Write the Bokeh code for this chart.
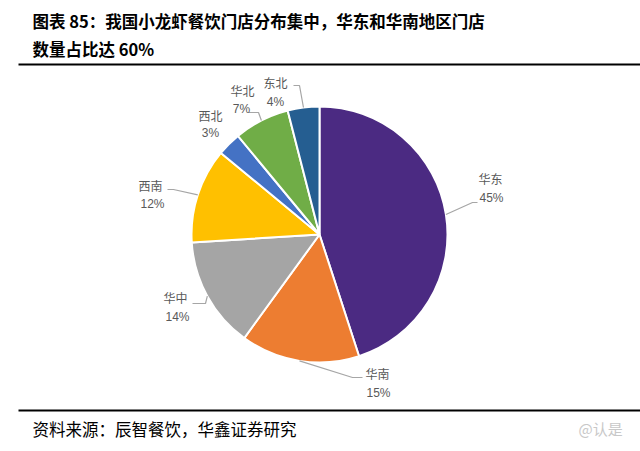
import math
from bokeh.plotting import figure
from bokeh.models import Range1d, ColumnDataSource, Label
from bokeh.core.properties import value
from bokeh.embed import file_html
from bokeh.resources import INLINE

# ---- data ----
regions = ["华东", "华南", "华中", "西南", "西北", "华北", "东北"]
shares = [45, 15, 14, 12, 3, 7, 4]
colors = ["#4B2A82", "#ED7D31", "#A5A5A5", "#FFC000", "#4472C4", "#70AD47", "#255E91"]

title_lines = ["图表 85：我国小龙虾餐饮门店分布集中，华东和华南地区门店", "数量占比达 60%"]
source_text = "资料来源：辰智餐饮，华鑫证券研究"

# ---- layout ----
W, H = 640, 451


def Y(y):
    return H - y


CX, CY, R = 319, Y(234), 128
FONT_NAME = "Noto Sans CJK SC"
FONT = value(FONT_NAME)

# label centres (screen coords): name x, name y, pct x, pct y
label_pos = [(490, 178, 491, 197), (377, 373, 378, 392), (175, 297, 177, 316),
             (150, 185, 152, 203), (210, 115, 210, 132), (242, 90, 241, 108),
             (275, 82, 275, 101)]
# leader line: elbow then end (screen coords); None = no line
leaders = [((472, 202), (477, 202)), ((352, 377), (362, 377)), ((205, 303), (192, 303)),
           ((173, 189), (167, 189)), None, ((258, 112), (248, 112)), ((299, 85), (293, 85))]

p = figure(width=W, height=H, output_backend="svg", toolbar_location=None,
           x_range=Range1d(0, W), y_range=Range1d(0, H), min_border=0)
p.axis.visible = False
p.grid.visible = False
p.outline_line_color = None
p.background_fill_color = "white"
p.border_fill_color = "white"

total = float(sum(shares))
starts, ends, mids = [], [], []
cum = 0.0
for s in shares:
    a0 = math.pi / 2 - 2 * math.pi * (cum + s) / total
    a1 = math.pi / 2 - 2 * math.pi * cum / total
    starts.append(a0)
    ends.append(a1)
    mids.append((a0 + a1) / 2)
    cum += s

src = ColumnDataSource(dict(start=starts, end=ends, color=colors))
p.wedge(x=CX, y=CY, radius=R, start_angle="start", end_angle="end", direction="anticlock",
        fill_color="color", line_color="white", line_width=2, source=src)

# leader lines
for i, ld in enumerate(leaders):
    if ld is None:
        continue
    ex = CX + R * math.cos(mids[i])
    ey = CY + R * math.sin(mids[i])
    (bx, by), (tx, ty) = ld
    p.line([ex, bx, tx], [ey, Y(by), Y(ty)], line_color="#A6A6A6", line_width=1.2)

# labels
names_src = ColumnDataSource(dict(x=[lp[0] for lp in label_pos], y=[Y(lp[1]) for lp in label_pos], t=regions))
pct_src = ColumnDataSource(dict(x=[lp[2] for lp in label_pos], y=[Y(lp[3]) for lp in label_pos],
                                t=[f"{s}%" for s in shares]))
p.text(x="x", y="y", text="t", source=names_src, text_font=FONT, text_font_size="12px",
       text_color="#595959", text_align="center", text_baseline="middle")
p.text(x="x", y="y", text="t", source=pct_src, text_font=value("Liberation Sans"), text_font_size="12px",
       text_color="#595959", text_align="center", text_baseline="middle")

# title
for i, ln in enumerate(title_lines):
    p.add_layout(Label(x=32, y=Y(20 + 28 * i), text=ln, text_font=FONT_NAME, text_font_size="16.5px",
                       text_font_style="bold", text_color="#000000", text_baseline="middle"))

# rules
p.line([18, 640], [Y(64), Y(64)], line_color="black", line_width=2)
p.line([18, 640], [Y(410), Y(410)], line_color="black", line_width=2)

# source
p.add_layout(Label(x=32, y=Y(428), text=source_text, text_font=FONT_NAME, text_font_size="16.5px",
                   text_color="#000000", text_baseline="middle"))

# watermark
p.add_layout(Label(x=578, y=Y(428), text="@认是", text_font=FONT_NAME, text_font_size="15px",
                   text_color="#C8C8C8", text_baseline="middle"))

open("out.html", "w").write(file_html(p, INLINE))
